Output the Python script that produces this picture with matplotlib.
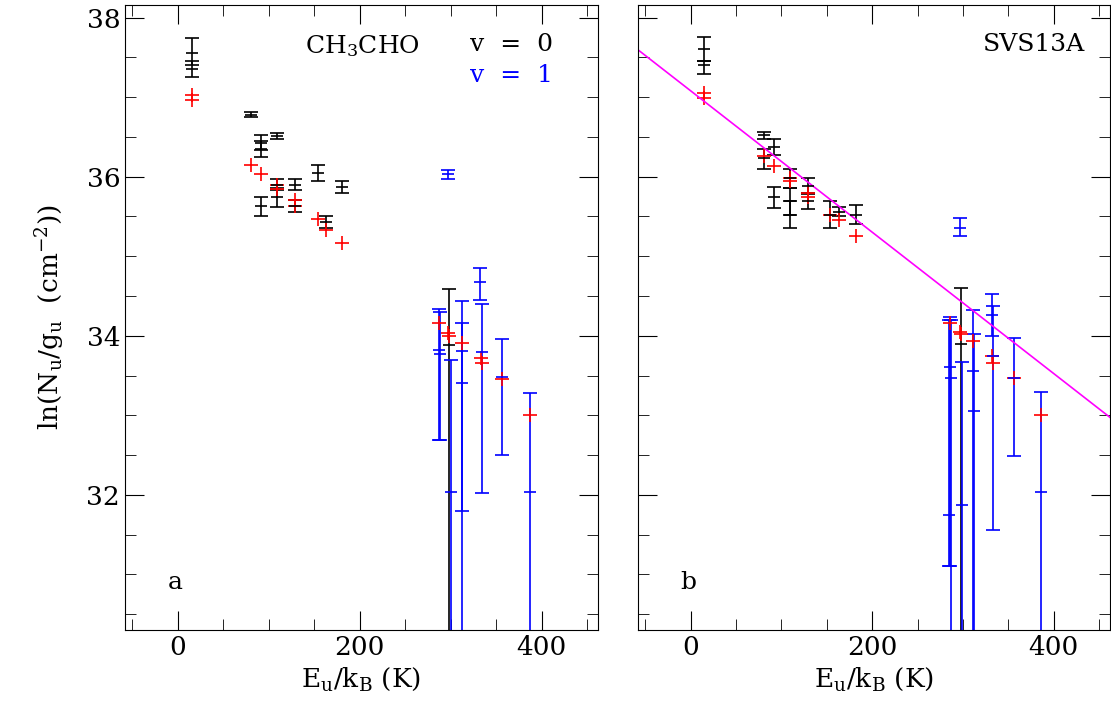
import numpy as np
import matplotlib.pyplot as plt
from matplotlib.ticker import MultipleLocator

plt.rcParams["font.family"] = "DejaVu Serif"
plt.rcParams["mathtext.fontset"] = "dejavuserif"

# ---- panel a (CH3CHO, whole data) ----
# v=0 points: energy, value, upper end, lower end
a_v0_E = [16, 16, 81, 92, 92, 109, 109, 109, 92, 129, 129, 154, 163, 181]
a_v0_y = [37.55, 37.35, 36.78, 36.43, 36.35, 36.51, 35.90, 35.74, 35.63, 35.90, 35.63, 36.05, 35.43, 35.87]
a_v0_hi = [37.74, 37.45, 36.81, 36.53, 36.45, 36.55, 35.97, 35.86, 35.75, 35.97, 35.71, 36.15, 35.50, 35.94]
a_v0_lo = [37.40, 37.25, 36.75, 36.33, 36.25, 36.47, 35.83, 35.62, 35.51, 35.83, 35.55, 35.95, 35.36, 35.80]
a_red_E = [16, 16, 81, 92, 109, 109, 129, 129, 154, 163, 181,
           287, 297, 298, 312, 333, 334, 357, 387]
a_red_y = [37.03, 36.97, 36.15, 36.03, 35.90, 35.85, 35.71, 35.63, 35.47, 35.33, 35.17,
           34.16, 34.03, 34.00, 33.91, 33.72, 33.66, 33.45, 33.00]
a_v0h_E = [298]
a_v0h_y = [33.89]
a_v0h_hi = [34.59]
a_v0h_lo = [29.0]
a_v1_E = [297, 287, 288, 300, 312, 312, 332, 335, 357, 387]
a_v1_y = [36.03, 33.82, 33.77, 32.03, 33.81, 33.41, 34.67, 33.79, 33.48, 32.04]
a_v1_hi = [36.09, 34.34, 34.30, 33.69, 34.44, 34.16, 34.85, 34.40, 33.96, 33.28]
a_v1_lo = [35.97, 32.69, 32.69, 29.0, 29.0, 31.79, 34.45, 32.02, 32.50, 29.0]

# ---- panel b (SVS13A) ----
b_v0_E = [15, 15, 81, 81, 92, 92, 109, 109, 109, 129, 129, 153, 163, 182, 298]
b_v0_y = [37.60, 37.40, 36.52, 36.23, 36.37, 35.74, 35.99, 35.69, 35.52, 35.88, 35.69, 35.52, 35.56, 35.52, 33.90]
b_v0_hi = [37.76, 37.45, 36.56, 36.35, 36.47, 35.87, 36.10, 35.86, 35.69, 35.98, 35.79, 35.69, 35.62, 35.64, 34.60]
b_v0_lo = [37.45, 37.29, 36.48, 36.10, 36.27, 35.61, 35.86, 35.52, 35.35, 35.78, 35.59, 35.35, 35.50, 35.40, 29.0]
b_red_E = [15, 15, 81, 92, 109, 109, 129, 129, 153, 163, 182,
           286, 297, 298, 311, 332, 333, 356, 386]
b_red_y = [37.05, 36.99, 36.26, 36.14, 35.99, 35.95, 35.79, 35.75, 35.52, 35.46, 35.25,
           34.16, 34.05, 34.02, 33.93, 33.74, 33.66, 33.47, 33.00]
b_v1_E = [297, 286, 287, 285, 299, 311, 312, 332, 333, 356, 386]
b_v1_y = [35.36, 33.61, 33.47, 31.74, 31.87, 33.56, 33.06, 34.26, 33.75, 33.47, 32.03]
b_v1_hi = [35.48, 34.24, 34.20, 34.20, 33.67, 34.32, 34.02, 34.52, 34.37, 33.97, 33.29]
b_v1_lo = [35.26, 31.10, 29.0, 31.10, 29.0, 29.0, 29.0, 34.00, 31.56, 32.49, 29.0]

# rotation diagram fit for panel b
fit_ln0 = 37.08
fit_T = 112.5


def ebar(ax, E, y, hi, lo, color):
    y = np.array(y)
    err = [y - np.array(lo), np.array(hi) - y]
    ax.errorbar(E, y, yerr=err, fmt="_", color=color, ms=8, mew=1.2,
                elinewidth=1.2, capsize=5, capthick=1.2)


def style(ax, left_labels=True):
    ax.set_xlim(-58, 462)
    ax.set_ylim(30.3, 38.16)
    ax.xaxis.set_major_locator(MultipleLocator(200))
    ax.xaxis.set_minor_locator(MultipleLocator(50))
    ax.yaxis.set_major_locator(MultipleLocator(2))
    ax.yaxis.set_minor_locator(MultipleLocator(0.5))
    ax.tick_params(which="both", direction="in", top=True, right=True, labelsize=19)
    ax.tick_params(which="major", length=14)
    ax.tick_params(which="minor", length=8)
    if not left_labels:
        ax.tick_params(labelleft=False)
    ax.set_xlabel(r"E$_\mathrm{u}$/k$_\mathrm{B}$ (K)", fontsize=19)


fig = plt.figure(figsize=(11.11, 7.18), dpi=100)
ax1 = fig.add_axes([0.1125, 0.1226, 0.4257, 0.8705])
ax2 = fig.add_axes([0.5743, 0.1226, 0.4248, 0.8705])

ebar(ax1, a_v0_E, a_v0_y, a_v0_hi, a_v0_lo, "black")
ebar(ax1, a_v0h_E, a_v0h_y, a_v0h_hi, a_v0h_lo, "black")
ebar(ax1, a_v1_E, a_v1_y, a_v1_hi, a_v1_lo, "blue")
ax1.plot(a_red_E, a_red_y, "+", color="red", ms=10, mew=1.2)

ebar(ax2, b_v0_E, b_v0_y, b_v0_hi, b_v0_lo, "black")
ebar(ax2, b_v1_E, b_v1_y, b_v1_hi, b_v1_lo, "blue")
ax2.plot(b_red_E, b_red_y, "+", color="red", ms=10, mew=1.2)
xf = np.array([-60, 470])
ax2.plot(xf, fit_ln0 - xf / fit_T, color="magenta", lw=1.2)

style(ax1)
style(ax2, left_labels=False)
ax1.set_ylabel(r"ln(N$_\mathrm{u}$/g$_\mathrm{u}$  (cm$^{-2}$))", fontsize=19, labelpad=14)

ax1.text(0.38, 0.955, r"CH$_3$CHO", transform=ax1.transAxes, fontsize=18, va="top")
ax1.text(0.73, 0.955, "v  =  0", transform=ax1.transAxes, fontsize=18, va="top")
ax1.text(0.73, 0.905, "v  =  1", transform=ax1.transAxes, fontsize=18, va="top", color="blue")
ax2.text(0.73, 0.955, "SVS13A", transform=ax2.transAxes, fontsize=18, va="top")
ax1.text(0.09, 0.065, "a", transform=ax1.transAxes, fontsize=18)
ax2.text(0.09, 0.065, "b", transform=ax2.transAxes, fontsize=18)

fig.savefig("out.png", dpi=100)
